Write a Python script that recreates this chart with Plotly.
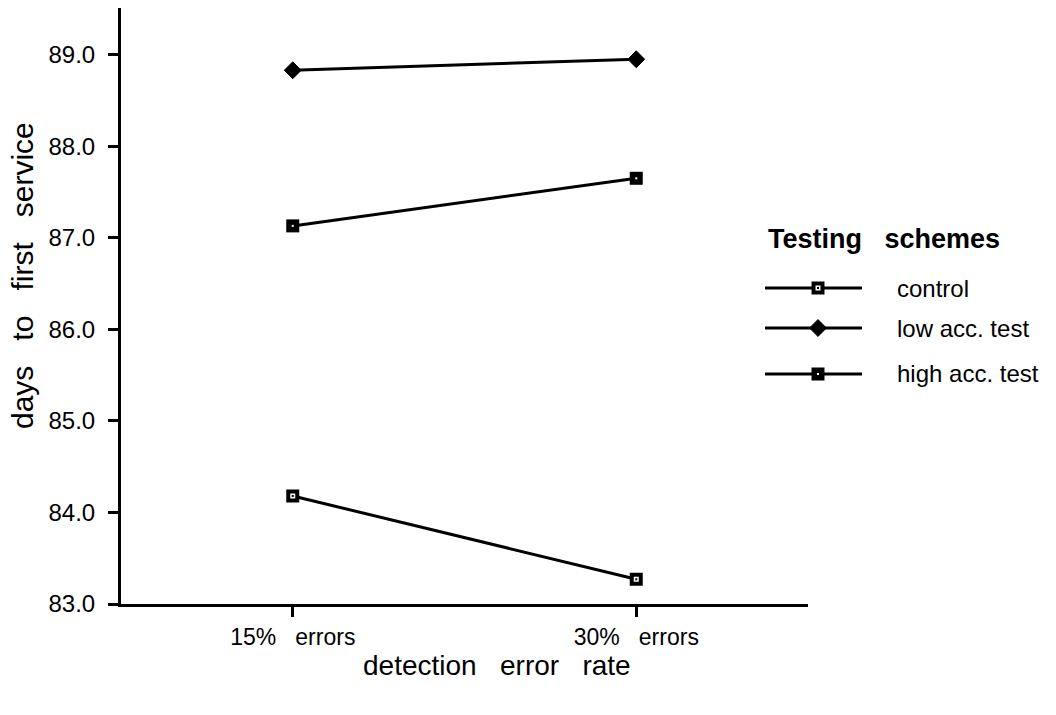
import plotly.graph_objects as go

# ---- data ----
categories = ["15% errors", "30% errors"]
control = [84.18, 83.27]
low_acc = [88.83, 88.95]
high_acc = [87.13, 87.65]
series_names = ["control", "low acc. test", "high acc. test"]
y_ticks = [83.0, 84.0, 85.0, 86.0, 87.0, 88.0, 89.0]
y_tick_labels = ["83.0", "84.0", "85.0", "86.0", "87.0", "88.0", "89.0"]
x_title = "detection error rate"
y_title = "days to first service"
legend_title = "Testing schemes"

FONT = "Liberation Sans, Arial, Helvetica, sans-serif"
NB = "\u00a0"

W, H = 1056, 715
L, T, B = 121, 8, 111
PLOT_RIGHT = 808
dom_x = (PLOT_RIGHT - L) / (W - L)


def px(xp):
    return (xp - L) / (W - L)


def py(yp):
    return (H - B - yp) / (H - B - T)


xpos = list(range(len(categories)))

fig = go.Figure()

line_style = dict(color="black", width=3)
m_control = dict(symbol="square", size=9, color="white", line=dict(color="black", width=4))
m_low = dict(symbol="diamond", size=13, color="black", line=dict(color="black", width=1))
m_high = dict(symbol="square", size=13, color="black", line=dict(color="black", width=0))
m_wdot = dict(symbol="square", size=2, color="white", line=dict(width=0))
m_bdot = dict(symbol="square", size=2, color="black", line=dict(width=0))

fig.add_trace(go.Scatter(x=xpos, y=control, mode="lines+markers", name=series_names[0],
                         line=line_style, marker=m_control, showlegend=False))
fig.add_trace(go.Scatter(x=xpos, y=control, mode="markers", hoverinfo="skip",
                         marker=m_bdot, showlegend=False))
fig.add_trace(go.Scatter(x=xpos, y=low_acc, mode="lines+markers", name=series_names[1],
                         line=line_style, marker=m_low, showlegend=False))
fig.add_trace(go.Scatter(x=xpos, y=high_acc, mode="lines+markers", name=series_names[2],
                         line=line_style, marker=m_high, showlegend=False))
fig.add_trace(go.Scatter(x=xpos, y=high_acc, mode="markers", hoverinfo="skip",
                         marker=m_wdot, showlegend=False))

# ---- custom legend on a separate pixel-scaled axis ----
leg_x0, leg_x1, leg_mx, leg_tx = 765, 862, 818, 895
leg_ys = [288, 328, 374]
dots = [m_bdot, None, m_wdot]
for name, ly, st, dot in zip(series_names, leg_ys, [m_control, m_low, m_high], dots):
    fig.add_trace(go.Scatter(x=[leg_x0, leg_mx, leg_x1], y=[ly, ly, ly], xaxis="x2", yaxis="y2",
                             mode="lines", line=line_style, hoverinfo="skip", showlegend=False))
    fig.add_trace(go.Scatter(x=[leg_mx], y=[ly], xaxis="x2", yaxis="y2", mode="markers",
                             marker=st, hoverinfo="skip", showlegend=False))
    if dot is not None:
        fig.add_trace(go.Scatter(x=[leg_mx], y=[ly], xaxis="x2", yaxis="y2", mode="markers",
                                 marker=dot, hoverinfo="skip", showlegend=False))
    fig.add_annotation(x=px(leg_tx), y=py(ly), xref="paper", yref="paper", text=name,
                       showarrow=False, xanchor="left", yanchor="middle",
                       font=dict(family=FONT, size=24, color="black"))
fig.add_annotation(x=px(766), y=py(239), xref="paper", yref="paper",
                   text="<b>" + legend_title.replace(" ", NB * 3) + "</b>",
                   showarrow=False, xanchor="left", yanchor="middle",
                   font=dict(family=FONT, size=27, color="black"))

# axis titles
fig.add_annotation(x=px(497), y=py(665), xref="paper", yref="paper",
                   text=x_title.replace(" ", NB * 3),
                   showarrow=False, xanchor="center", yanchor="middle",
                   font=dict(family=FONT, size=28, color="black"))
fig.add_annotation(x=px(22), y=py(276), xref="paper", yref="paper", textangle=-90,
                   text=y_title.replace(" ", NB * 3),
                   showarrow=False, xanchor="center", yanchor="middle",
                   font=dict(family=FONT, size=30, color="black"))

fig.update_layout(
    width=W, height=H,
    margin=dict(l=L, r=0, t=T, b=B, pad=0),
    paper_bgcolor="white", plot_bgcolor="rgba(0,0,0,0)",
    font=dict(family=FONT, color="black"),
    xaxis=dict(
        domain=[0, dom_x], range=[-0.5, 1.5],
        tickmode="array", tickvals=xpos,
        ticktext=[c.replace(" ", NB * 3) for c in categories],
        showline=True, linecolor="black", linewidth=3,
        ticks="outside", ticklen=10, tickwidth=2.5, tickcolor="black",
        showgrid=False, zeroline=False,
        tickfont=dict(family=FONT, size=23),
        ticklabelstandoff=0,
    ),
    yaxis=dict(
        range=[83.0, 89.51],
        tickmode="array", tickvals=y_ticks, ticktext=y_tick_labels,
        showline=True, linecolor="black", linewidth=3,
        ticks="outside", ticklen=10, tickwidth=2.5, tickcolor="black",
        showgrid=False, zeroline=False,
        tickfont=dict(family=FONT, size=24),
        ticklabelstandoff=8,
    ),
    xaxis2=dict(domain=[0, 1], range=[L, W], anchor="y2",
                visible=False, fixedrange=True),
    yaxis2=dict(domain=[0, 1], range=[H - B, T], anchor="x2",
                visible=False, fixedrange=True),
)

fig.write_html("out.html")
